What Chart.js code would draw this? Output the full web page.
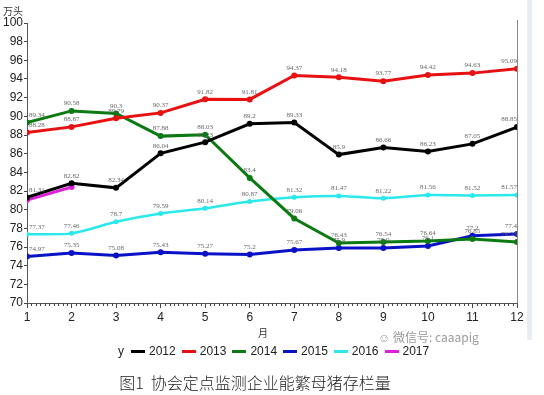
<!DOCTYPE html>
<html>
<head>
<meta charset="utf-8">
<script src="https://cdn.jsdelivr.net/npm/chart.js@4.4.0/dist/chart.umd.min.js"></script>
<style>
  html, body { margin:0; padding:0; background:#fff; }
  #wrap { position:relative; width:544px; height:395px; overflow:hidden; font-family:"Liberation Sans", Arial, sans-serif; }
  #c { position:absolute; left:0; top:0; }
  .abs { position:absolute; white-space:nowrap; }
  #unit { left:3px; top:3px; font-size:10px; color:#333; font-family:"Noto Sans CJK SC", sans-serif; }
  #xtitle { left:258px; top:325px; font-size:10px; color:#333; font-family:"Noto Sans CJK SC", sans-serif; }
  #wm { left:378px; top:328px; font-size:12px; color:#9a9a9a; font-family:"Noto Sans CJK SC", sans-serif; }
  #legend { left:118px; top:344px; font-size:12px; color:#222; display:flex; align-items:center; }
  #legend .it { display:flex; align-items:center; margin-right:6px; }
  #legend .sw { width:14px; height:3px; margin-right:4px; position:relative; }
  #caption { left:0; width:510px; text-align:center; top:370px; font-size:16px; color:#222; font-family:"Noto Sans CJK SC", sans-serif; font-weight:300; }
  #sidebar { left:527px; top:0; width:5px; height:340px; background:#e8edf3; }
</style>
</head>
<body>
<div id="wrap">
  <canvas id="c" width="544" height="395"></canvas>
  <div id="unit" class="abs">万头</div>
  <div id="xtitle" class="abs">月</div>
  <div id="wm" class="abs">&#x263A; 微信号: caaapig</div>
  <div id="legend" class="abs"></div>
  <div id="caption" class="abs">图1&nbsp; 协会定点监测企业能繁母猪存栏量</div>
  <div id="sidebar" class="abs"></div>
</div>
<script>
const months = [1,2,3,4,5,6,7,8,9,10,11,12];
const yTicks = [70,72,74,76,78,80,82,84,86,88,90,92,94,96,98,100];
const seriesNames = ['2012','2013','2014','2015','2016','2017'];
const s2012 = [81.31, 82.82, 82.34, 86.04, 87.23, 89.2, 89.33, 85.9, 86.66, 86.23, 87.05, 88.85];
const s2013 = [88.28, 88.87, 89.79, 90.37, 91.82, 91.81, 94.37, 94.18, 93.77, 94.42, 94.63, 95.09];
const s2014 = [89.34, 90.58, 90.3, 87.88, 88.03, 83.4, 79.06, 76.43, 76.54, 76.64, 76.85, 76.53];
const s2015 = [74.97, 75.35, 75.08, 75.43, 75.27, 75.2, 75.67, 75.9, 75.9, 76.1, 77.2, 77.4];
const s2016 = [77.37, 77.46, 78.7, 79.59, 80.14, 80.87, 81.32, 81.47, 81.22, 81.56, 81.52, 81.57];
const s2017 = [81.03, 82.42];
const colors = ['#000000', '#e81010', '#0b7a12', '#0a12c8', '#2ae8ec', '#e020d8'];
const showLabels = [true, true, true, true, true, false];

const allSeries = [s2012, s2013, s2014, s2015, s2016, s2017];

const datasets = allSeries.map((s, i) => ({
  label: seriesNames[i],
  data: s.map((v, j) => ({x: months[j], y: v})),
  borderColor: colors[i],
  backgroundColor: colors[i],
  borderWidth: i === 4 ? 2.5 : 3,
  pointRadius: i === 4 ? 2.5 : 3,
  pointBorderWidth: 0,
  tension: i === 4 ? 0.25 : 0,
  showLabels: showLabels[i]
}));

// HTML legend
const lg = document.getElementById('legend');
const ylab = document.createElement('span');
ylab.textContent = 'y';
ylab.style.marginRight = '7px';
lg.appendChild(ylab);
seriesNames.forEach((n, i) => {
  const it = document.createElement('span'); it.className = 'it';
  const sw = document.createElement('span'); sw.className = 'sw'; sw.style.background = colors[i];
  const t = document.createElement('span'); t.textContent = n;
  it.appendChild(sw); it.appendChild(t); lg.appendChild(it);
});

const extras = {
  id: 'extras',
  afterDatasetsDraw(chart) {
    const ctx = chart.ctx;
    const ca = chart.chartArea;
    ctx.save();
    ctx.font = '7px "Liberation Serif", serif';
    ctx.fillStyle = '#666';
    ctx.textAlign = 'center';
    ctx.textBaseline = 'bottom';
    chart.data.datasets.forEach((ds, i) => {
      if (!ds.showLabels) return;
      const meta = chart.getDatasetMeta(i);
      meta.data.forEach((pt, j) => {
        const txt = String(ds.data[j].y);
        const w = ctx.measureText(txt).width;
        let x = pt.x;
        x = Math.max(ca.left + w/2 + 2, Math.min(ca.right - w/2, x));
        ctx.fillText(txt, x, pt.y - 4);
      });
    });
    ctx.restore();
  },
  afterDraw(chart) {
    const ctx = chart.ctx;
    const ca = chart.chartArea;
    const xs = chart.scales.x;
    ctx.save();
    // right border
    ctx.strokeStyle = '#888';
    ctx.lineWidth = 1;
    ctx.beginPath();
    ctx.moveTo(ca.right + 0.5, ca.top - 3);
    ctx.lineTo(ca.right + 0.5, ca.bottom);
    ctx.stroke();
    // minor x ticks
    ctx.strokeStyle = '#444';
    ctx.beginPath();
    for (let m = months[0]; m < months[months.length-1]; m++) {
      for (let k = 1; k < 10; k++) {
        const px = Math.round(xs.getPixelForValue(m + k/10)) + 0.5;
        ctx.moveTo(px, ca.bottom);
        ctx.lineTo(px, ca.bottom + 3);
      }
    }
    ctx.stroke();
    ctx.restore();
  }
};

new Chart(document.getElementById('c'), {
  type: 'line',
  data: { datasets },
  options: {
    responsive: false,
    animation: false,
    devicePixelRatio: 1,
    layout: { padding: { left: 0, top: 23, right: 27, bottom: 0 } },
    plugins: { legend: { display: false }, tooltip: { enabled: false } },
    scales: {
      x: {
        type: 'linear',
        min: months[0], max: months[months.length-1],
        afterFit(s) { s.height = 92; },
        afterBuildTicks(s) { s.ticks = months.map(v => ({value: v})); },
        ticks: { color: '#222', font: { size: 12, family: '"Liberation Sans", Arial, sans-serif' }, padding: 2, maxRotation: 0 },
        grid: { drawOnChartArea: false, drawTicks: true, tickLength: 5, color: '#444' },
        border: { display: true, color: '#555', width: 1 }
      },
      y: {
        min: yTicks[0], max: yTicks[yTicks.length-1],
        afterFit(s) { s.width = 27; },
        afterBuildTicks(s) { s.ticks = yTicks.map(v => ({value: v})); },
        ticks: { color: '#222', font: { size: 12, family: '"Liberation Sans", Arial, sans-serif' }, padding: 1 },
        grid: { drawOnChartArea: false, drawTicks: true, tickLength: 3, color: '#444' },
        border: { display: true, color: '#555', width: 1 }
      }
    }
  },
  plugins: [extras]
});
</script>
</body>
</html>
